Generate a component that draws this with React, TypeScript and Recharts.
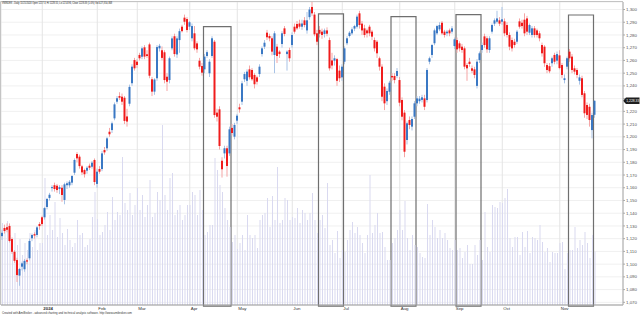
import React from 'react';
import {
  ComposedChart,
  Bar,
  XAxis,
  YAxis,
  CartesianGrid,
  ReferenceArea,
  ReferenceLine,
} from 'recharts';

const UP = '#3a78c4';
const DOWN = '#f01c1c';
const UP_WICK = '#a9c3e6';
const DOWN_WICK = '#f5a5a5';

// HOSE trading days, Dec 2023 - Nov 21 2024
const tradingDays: [string, number[]][] = [
  ['2023-12', [8, 11, 12, 13, 14, 15, 18, 19, 20, 21, 22, 25, 26, 27, 28, 29]],
  ['2024-01', [2, 3, 4, 5, 8, 9, 10, 11, 12, 15, 16, 17, 18, 19, 22, 23, 24, 25, 26, 29, 30, 31]],
  ['2024-02', [1, 2, 5, 6, 7, 15, 16, 19, 20, 21, 22, 23, 26, 27, 28, 29]],
  ['2024-03', [1, 4, 5, 6, 7, 8, 11, 12, 13, 14, 15, 18, 19, 20, 21, 22, 25, 26, 27, 28, 29]],
  ['2024-04', [1, 2, 3, 4, 5, 8, 9, 10, 11, 12, 15, 16, 17, 19, 22, 23, 24, 25, 26]],
  ['2024-05', [2, 3, 6, 7, 8, 9, 10, 13, 14, 15, 16, 17, 20, 21, 22, 23, 24, 27, 28, 29, 30, 31]],
  ['2024-06', [3, 4, 5, 6, 7, 10, 11, 12, 13, 14, 17, 18, 19, 20, 21, 24, 25, 26, 27, 28]],
  ['2024-07', [1, 2, 3, 4, 5, 8, 9, 10, 11, 12, 15, 16, 17, 18, 19, 22, 23, 24, 25, 26, 29, 30, 31]],
  ['2024-08', [1, 2, 5, 6, 7, 8, 9, 12, 13, 14, 15, 16, 19, 20, 21, 22, 23, 26, 27, 28, 29, 30]],
  ['2024-09', [4, 5, 6, 9, 10, 11, 12, 13, 16, 17, 18, 19, 20, 23, 24, 25, 26, 27, 30]],
  ['2024-10', [1, 2, 3, 4, 7, 8, 9, 10, 11, 14, 15, 16, 17, 18, 21, 22, 23, 24, 25, 28, 29, 30, 31]],
  ['2024-11', [1, 4, 5, 6, 7, 8, 11, 12, 13, 14, 15, 18, 19, 20, 21]],
];

const opens = [
  1122, 1128.4, 1129, 1130, 1119.7, 1109.7, 1103.2, 1091, 1098, 1096, 1103, 1104.6, 1120.3, 1123.5, 1122.9, 1131.5,
  1136.8, 1136.8, 1144.9, 1152, 1159.7, 1162, 1161.6, 1159, 1160, 1150.4, 1162, 1161.9, 1164, 1171.8, 1186.5, 1184.4, 1176.8, 1173.9, 1173.4, 1177.3, 1176.5, 1181.8,
  1163, 1174.7, 1174.7, 1189.6, 1191, 1204, 1205.3, 1214.5, 1227.6, 1232, 1231.5, 1230.7, 1216, 1226, 1242.1, 1260.3,
  1259, 1264.3, 1262.9, 1270.3, 1264.8, 1272.6, 1245.2, 1235.5, 1246, 1269.5, 1268, 1266.4, 1247.2, 1244.6, 1269.5, 1279, 1264.7, 1276, 1286.5, 1293.6, 1292.5,
  1286.5, 1277.4, 1281.3, 1273.4, 1259.8, 1255.6, 1253, 1263.5, 1249.9, 1263.5, 1274.7, 1219, 1221.6, 1181.2, 1187, 1191, 1187, 1207, 1200.1,
  1212.7, 1223.2, 1227.6, 1245.2, 1244, 1253, 1252.5, 1248.6, 1246.7, 1249.3, 1265, 1270.8, 1281.8, 1279.2, 1277.4, 1264.3, 1270.8, 1266.9, 1272.9, 1285.2, 1265, 1268.2,
  1272.1, 1286.5, 1288.6, 1289, 1286.5, 1291.5, 1283.6, 1294, 1302, 1296, 1281.3, 1284, 1282.6, 1280.8, 1283.6, 1276, 1260, 1259.8, 1261, 1252,
  1246.7, 1259, 1273.5, 1279.2, 1281.3, 1285, 1286.5, 1297, 1288.9, 1285.2, 1283.6, 1286.5, 1282.6, 1276, 1274.7, 1261.7, 1255.1, 1239.4, 1228, 1235.4, 1247.8, 1247.8, 1247.8,
  1244.6, 1228.9, 1219, 1197.5, 1213.2, 1208, 1215.8, 1226.3, 1228, 1229, 1230.2, 1228.9, 1259, 1264.3, 1273.5, 1281.3, 1284.4, 1289.6, 1282.6, 1281.3, 1283.6, 1282.6,
  1271.3, 1276, 1273.4, 1270.8, 1269.5, 1256.4, 1259, 1253.8, 1253, 1240, 1260.3, 1268.2, 1278.9, 1277.4, 1268.2, 1282.6, 1288.9, 1290.4, 1291.5,
  1290.4, 1290.7, 1287.8, 1280, 1276, 1274.7, 1274.7, 1290.7, 1289.6, 1292, 1293, 1281.8, 1280, 1285.2, 1283.6, 1281.3, 1272.1, 1270.8, 1256.4, 1255.5, 1257.8, 1264.3, 1259.8,
  1264, 1256.4, 1244.6, 1255.1, 1266.9, 1263, 1253.8, 1252.5, 1244, 1246, 1234.2, 1225, 1223.6, 1205.3, 1217.3,
];

const highs = [
  1127, 1131, 1132, 1132, 1121, 1111, 1105, 1097, 1102, 1104, 1104.5, 1120, 1124, 1125, 1130, 1133,
  1138, 1145, 1152, 1156, 1162, 1164, 1163, 1162, 1162, 1164, 1165, 1166, 1170, 1183, 1188, 1186, 1178, 1175, 1177, 1179, 1181, 1183,
  1175, 1177, 1189, 1192, 1200, 1207, 1212, 1227, 1232, 1235, 1234, 1232, 1222, 1241, 1257, 1262,
  1261, 1266, 1271, 1272, 1268, 1274, 1247, 1246, 1272, 1273, 1271, 1268, 1250, 1263, 1279, 1281, 1279, 1285, 1288, 1296, 1294,
  1291, 1289, 1287, 1275, 1262, 1258, 1265, 1268, 1261, 1279, 1276, 1222, 1224, 1184, 1193, 1193, 1208, 1210, 1211,
  1218, 1226, 1244, 1251, 1253, 1256, 1254, 1250, 1248, 1257, 1271, 1276, 1284, 1281, 1279, 1283, 1273, 1268, 1283, 1287, 1268, 1270,
  1282, 1289, 1291, 1292, 1292, 1294, 1298, 1302, 1306, 1298, 1284, 1287, 1285, 1285, 1286, 1278, 1266, 1264, 1262, 1256,
  1257, 1271, 1279, 1283, 1286, 1288, 1296, 1299, 1291, 1288, 1285, 1288, 1284, 1278, 1276, 1263, 1257, 1242, 1238, 1244, 1250, 1250, 1254,
  1247, 1231, 1221, 1212, 1216, 1216, 1228, 1232, 1232, 1233, 1233, 1254, 1263, 1273, 1285, 1288, 1290, 1291, 1284, 1284, 1285, 1287,
  1278, 1278, 1275, 1273, 1271, 1258, 1262, 1256, 1255, 1261, 1267, 1274, 1281, 1279, 1279, 1289, 1293, 1299, 1294,
  1302, 1293, 1290, 1282, 1278, 1277, 1284, 1293, 1292, 1297, 1295, 1289, 1287, 1287, 1285, 1283, 1274, 1272, 1258, 1258, 1263, 1266, 1267,
  1268, 1258, 1249, 1263, 1269, 1265, 1256, 1254, 1249, 1248, 1236, 1227, 1226, 1219, 1228.55,
];

const lows = [
  1119, 1124, 1125, 1117, 1108, 1101, 1086, 1083, 1095, 1094, 1100, 1103, 1118, 1120, 1121, 1127,
  1130, 1135, 1143, 1150, 1157, 1157, 1156, 1155, 1149, 1147, 1159, 1160, 1162, 1170, 1180, 1175, 1170, 1168, 1171, 1174, 1175, 1162,
  1160, 1171, 1173, 1186, 1189, 1200, 1203, 1213, 1226, 1229, 1225, 1210, 1208, 1224, 1240, 1252,
  1254, 1260, 1261, 1261, 1262, 1246, 1232, 1233, 1244, 1267, 1260, 1242, 1236, 1242, 1268, 1263, 1262, 1266, 1282, 1288, 1282,
  1284, 1275, 1268, 1266, 1253, 1248, 1250, 1262, 1247, 1262, 1215, 1212, 1190, 1168, 1183, 1168.7, 1185, 1201, 1198,
  1210, 1219, 1225, 1243, 1240, 1245, 1244, 1238, 1241, 1247, 1263, 1269, 1276, 1275, 1264, 1250, 1258, 1262, 1270, 1279, 1252, 1259,
  1270, 1281, 1284, 1285, 1284, 1286, 1281, 1292, 1295, 1279, 1272, 1278, 1277, 1278, 1279, 1252, 1253, 1256, 1240, 1243,
  1244, 1257, 1272, 1278, 1280, 1283, 1285, 1285, 1280, 1278, 1278, 1279, 1276, 1267, 1262, 1252, 1228, 1221, 1225, 1233, 1244, 1242, 1246,
  1224, 1213, 1184, 1194, 1206, 1205, 1214, 1224, 1226, 1227, 1221, 1227, 1257, 1262, 1272, 1280, 1283, 1280, 1278, 1279, 1279, 1281,
  1269, 1266, 1267, 1266, 1253, 1244, 1255, 1250, 1246, 1238, 1258, 1266, 1270, 1266, 1266, 1281, 1287, 1289, 1287,
  1288, 1279, 1278, 1268, 1267, 1270, 1273, 1285, 1285, 1279, 1280, 1280, 1278, 1278, 1278, 1275, 1263, 1255, 1250, 1250, 1255, 1257, 1257,
  1253, 1246, 1242, 1253, 1259, 1250, 1249, 1246, 1241, 1231, 1215, 1214, 1208, 1198.8, 1214.96,
];

const closes = [
  1124.6, 1126, 1127, 1118.2, 1109.7, 1102.6, 1091.4, 1096.2, 1100.6, 1102.6, 1102, 1118.2, 1122.9, 1122.5, 1128.9, 1129.9,
  1131.5, 1144, 1151.2, 1154.5, 1160.5, 1159, 1158.2, 1160.5, 1154.3, 1162.7, 1163.5, 1164.7, 1169.2, 1181.8, 1183.1, 1177, 1172.1, 1170.6, 1175.7, 1175.7, 1179.7, 1164.5,
  1172.6, 1172.6, 1187, 1187.8, 1198.8, 1202, 1210.6, 1225.5, 1230.3, 1230.7, 1227.6, 1212.5, 1212, 1239.2, 1255.1, 1253.8,
  1256.4, 1261.7, 1269.5, 1263, 1263.5, 1248, 1235.5, 1245, 1270.5, 1271.5, 1262, 1244.6, 1243.3, 1261.7, 1277.3, 1265, 1277.3, 1283, 1283, 1290.4, 1283.9,
  1290, 1287, 1269.5, 1268.7, 1255.1, 1250.4, 1263, 1266.5, 1259, 1277.4, 1217.1, 1215.8, 1192.8, 1174.5, 1191, 1177.1, 1205.9, 1203, 1209.3,
  1216.6, 1221.6, 1242, 1249.3, 1251.2, 1246.8, 1245.2, 1241.3, 1243.3, 1255.1, 1269.5, 1273.9, 1278.2, 1277.4, 1266.9, 1281.3, 1263.5, 1265, 1281.3, 1280.8, 1266.9, 1261.7,
  1280, 1282.6, 1285.2, 1286.5, 1289, 1287.8, 1291.5, 1300, 1297, 1280.5, 1274.7, 1281, 1280, 1283.6, 1281, 1253.8, 1256, 1261.7, 1244, 1246,
  1255.1, 1269.5, 1277.4, 1281.8, 1284.4, 1287, 1294.4, 1287.8, 1283.6, 1280, 1281.3, 1281.3, 1278.7, 1269.5, 1265.6, 1255.1, 1231.5, 1226.3, 1236, 1242.5, 1246.7, 1244.6, 1251.7,
  1226.8, 1215.8, 1188.3, 1210.6, 1209.3, 1214, 1226.3, 1230.2, 1230, 1231, 1223.6, 1252.5, 1261.7, 1272.1, 1283.6, 1287, 1287.8, 1281.3, 1280, 1282.6, 1281.3, 1285.2,
  1276.6, 1268.7, 1269.5, 1268.2, 1255.1, 1253.8, 1257.2, 1251.9, 1248.6, 1259, 1265.6, 1272.1, 1272.1, 1268.7, 1277.4, 1287.8, 1291.5, 1293, 1288.9,
  1292.3, 1281.3, 1280, 1270.8, 1269.5, 1272.1, 1282.6, 1286.5, 1287, 1281.3, 1282.6, 1287.8, 1285.2, 1280, 1280, 1277.4, 1265.6, 1257.8, 1252.5, 1251.5, 1261.7, 1259, 1265,
  1254, 1248.6, 1246, 1261.7, 1261.7, 1252.5, 1251.2, 1248.6, 1246.7, 1232.9, 1218.5, 1217.2, 1213.2, 1217.1, 1228.33,
];

// volume, millions of shares
const volumes = [
  656, 616, 672, 560, 496, 576, 480, 528, 400, 496, 440, 576, 464, 600, 440, 496,
  496, 1016, 560, 720, 600, 824, 544, 696, 576, 480, 608, 520, 464, 496, 680, 560, 576, 464, 480, 528, 704, 904,
  688, 560, 584, 640, 744, 600, 864, 680, 744, 720, 1184, 816, 760, 896, 720, 800,
  936, 760, 880, 704, 800, 1000, 704, 736, 904, 840, 1440, 880, 760, 1016, 1056, 720, 760, 800, 680, 720, 800,
  800, 904, 880, 720, 920, 760, 560, 584, 640, 640, 1176, 1080, 960, 904, 776, 680, 624, 504, 560,
  448, 496, 560, 440, 720, 560, 536, 560, 456, 680, 720, 736, 856, 624, 872, 680, 1104, 656, 680, 856, 840, 680,
  704, 696, 776, 656, 760, 736, 680, 736, 896, 680, 576, 680, 720, 616, 976, 480, 520, 416, 592, 376,
  440, 424, 520, 600, 664, 576, 624, 560, 496, 416, 560, 1040, 576, 640, 736, 576, 584, 464, 360, 360, 496, 536, 600,
  760, 600, 832, 536, 440, 560, 480, 464, 416, 384, 376, 808, 560, 680, 624, 536, 600, 536, 576, 520, 456, 440,
  520, 440, 456, 376, 424, 480, 328, 328, 480, 400, 520, 360, 744, 464, 424, 800, 784, 776, 824,
  816, 856, 928, 536, 464, 544, 544, 400, 584, 464, 592, 416, 544, 536, 520, 640, 504, 424, 456, 344, 424, 416, 416,
  496, 504, 288, 416, 440, 440, 624, 456, 520, 480, 584, 496, 376, 560, 427,
];

const monthTicks = ['2024-01-02', '2024-02-01', '2024-03-01', '2024-04-01', '2024-05-02', '2024-06-03', '2024-07-01', '2024-08-01', '2024-09-04', '2024-10-01', '2024-11-01'];
const monthLabels = ['2024', 'Feb', 'Mar', 'Apr', 'May', 'Jun', 'Jul', 'Aug', 'Sep', 'Oct', 'Nov'];

const priceTicks = [1070, 1080, 1090, 1100, 1110, 1120, 1130, 1140, 1150, 1160, 1170, 1180, 1190, 1200, 1210, 1220, 1230, 1240, 1250, 1260, 1270, 1280, 1290, 1300];

// highlighted windows
const boxFrom = ['2024-04-09', '2024-06-18', '2024-07-29', '2024-09-05', '2024-11-07'];
const boxTo = ['2024-04-24', '2024-07-01', '2024-08-09', '2024-09-18', '2024-11-20'];
const boxTop = [1286.5, 1296.5, 1294.4, 1296, 1295.7];

const lastClose = 1228.33;

const dates = tradingDays.flatMap(([m, days]) => days.map((d) => `${m}-${String(d).padStart(2, '0')}`));

const data = dates.map((date, i) => ({
  date,
  open: opens[i],
  high: highs[i],
  low: lows[i],
  close: closes[i],
  range: [lows[i], highs[i]],
  volume: volumes[i],
}));

const FONT = '"Liberation Sans", Arial, sans-serif';

// wick spans the bar, body is placed inside it using the same pixel/price ratio
const Candle = (props: any) => {
  const { x, y, width, height, payload } = props;
  if (!payload || height == null) return null;
  const { open, close, high, low } = payload;
  const up = close >= open;
  const k = height / (high - low);
  const cx = x + width / 2;
  const top = y + (high - Math.max(open, close)) * k;
  const bh = Math.max(1, Math.abs(close - open) * k);
  return (
    <g>
      <line x1={cx} x2={cx} y1={y} y2={y + height} stroke={up ? UP_WICK : DOWN_WICK} strokeWidth={1} />
      <rect x={cx - 1} y={top} width={2} height={bh} fill={up ? UP : DOWN} />
    </g>
  );
};

const MonthTick = (props: any) => {
  const { x, y, payload } = props;
  const idx = monthTicks.indexOf(payload.value);
  return (
    <text x={x + 1} y={y + 5} fontSize={4.4} fill="#333" fontFamily={FONT} fontWeight={idx === 0 ? 'bold' : 'normal'}>
      {monthLabels[idx]}
    </text>
  );
};

// the last-close tag sits over the 1,230 label, so that one is left out
const PriceTick = (props: any) => {
  const { x, y, payload } = props;
  if (Math.abs(payload.value - lastClose) < 5) return null;
  return (
    <text x={x} y={y + 1.6} fontSize={4.4} fill="#555" fontFamily={FONT}>
      {payload.value.toLocaleString('en-US')}
    </text>
  );
};

const PriceTag = (props: any) => {
  const { viewBox } = props;
  if (!viewBox) return null;
  const x0 = viewBox.x + viewBox.width;
  const y0 = viewBox.y;
  return (
    <g>
      <polygon
        points={`${x0},${y0} ${x0 + 3},${y0 - 3.3} ${x0 + 16.5},${y0 - 3.3} ${x0 + 16.5},${y0 + 3.3} ${x0 + 3},${y0 + 3.3}`}
        fill="#1e1e1e"
      />
      <text x={x0 + 3.2} y={y0 + 1.3} fontSize={3.4} fill="#fff" fontFamily={FONT}>
        {lastClose.toLocaleString('en-US')}
      </text>
    </g>
  );
};

export default function App() {
  return (
    <div style={{ position: 'relative', width: 640, height: 315, background: '#fff' }}>
      <style>{'body{margin:0}'}</style>
      <ComposedChart
        width={640}
        height={315}
        data={data}
        margin={{ top: 2, right: 0, bottom: 0, left: 1 }}
        barCategoryGap={0}
        barGap={0}
        style={{ fontFamily: FONT }}
      >
        <CartesianGrid xAxisId="c" yAxisId="p" vertical={false} stroke="#f0f0f0" />
        <CartesianGrid xAxisId="c" yAxisId="p" horizontal={false} stroke="#e4e4e4" />
        <XAxis
          xAxisId="c"
          dataKey="date"
          ticks={monthTicks}
          interval={0}
          height={10}
          padding={{ left: 0, right: 27 }}
          tickLine={false}
          tickSize={0}
          tickMargin={0}
          stroke="#999"
          tick={<MonthTick />}
        />
        <XAxis xAxisId="v" dataKey="date" hide padding={{ left: 0, right: 27 }} />
        <YAxis
          yAxisId="p"
          orientation="right"
          domain={[1067.9, 1305.9]}
          ticks={priceTicks}
          interval={0}
          allowDataOverflow
          width={17}
          tickSize={2}
          tickMargin={1}
          stroke="#aaa"
          tick={<PriceTick />}
        />
        <YAxis yAxisId="v" hide domain={[0, 2424]} />
        <Bar xAxisId="v" yAxisId="v" dataKey="volume" fill="#d9d9f0" barSize={1} isAnimationActive={false} />
        <Bar xAxisId="c" yAxisId="p" dataKey="range" barSize={2} shape={Candle} isAnimationActive={false} />
        {boxFrom.map((from, i) => (
          <ReferenceArea
            key={from}
            xAxisId="c"
            yAxisId="p"
            x1={from}
            x2={boxTo[i]}
            y1={1067}
            y2={boxTop[i]}
            fill="none"
            stroke="#6f6f6f"
            strokeWidth={1.2}
            ifOverflow="visible"
          />
        ))}
        <ReferenceLine xAxisId="c" yAxisId="p" y={lastClose} stroke="none" label={<PriceTag />} />
      </ComposedChart>
      <svg width={640} height={315} style={{ position: 'absolute', left: 0, top: 0, pointerEvents: 'none' }}>
        <line x1={0.5} y1={1.5} x2={623} y2={1.5} stroke="#c4c4c4" />
        <line x1={0.5} y1={1.5} x2={0.5} y2={305} stroke="#c4c4c4" />
        <text x={2} y={4.2} fontSize={2.6} fill="#222" fontFamily={FONT} textLength={110} lengthAdjust="spacingAndGlyphs">
          VNINDEX - Daily 11/21/2024 Open 1217.3, Hi 1228.55, Lo 1214.96, Close 1228.33 (1.0%) Vol 427,350,368
        </text>
        <text x={2} y={314.3} fontSize={2.6} fill="#333" fontFamily={FONT} textLength={130} lengthAdjust="spacingAndGlyphs">
          Created with AmiBroker - advanced charting and technical analysis software. http://www.amibroker.com
        </text>
      </svg>
    </div>
  );
}
